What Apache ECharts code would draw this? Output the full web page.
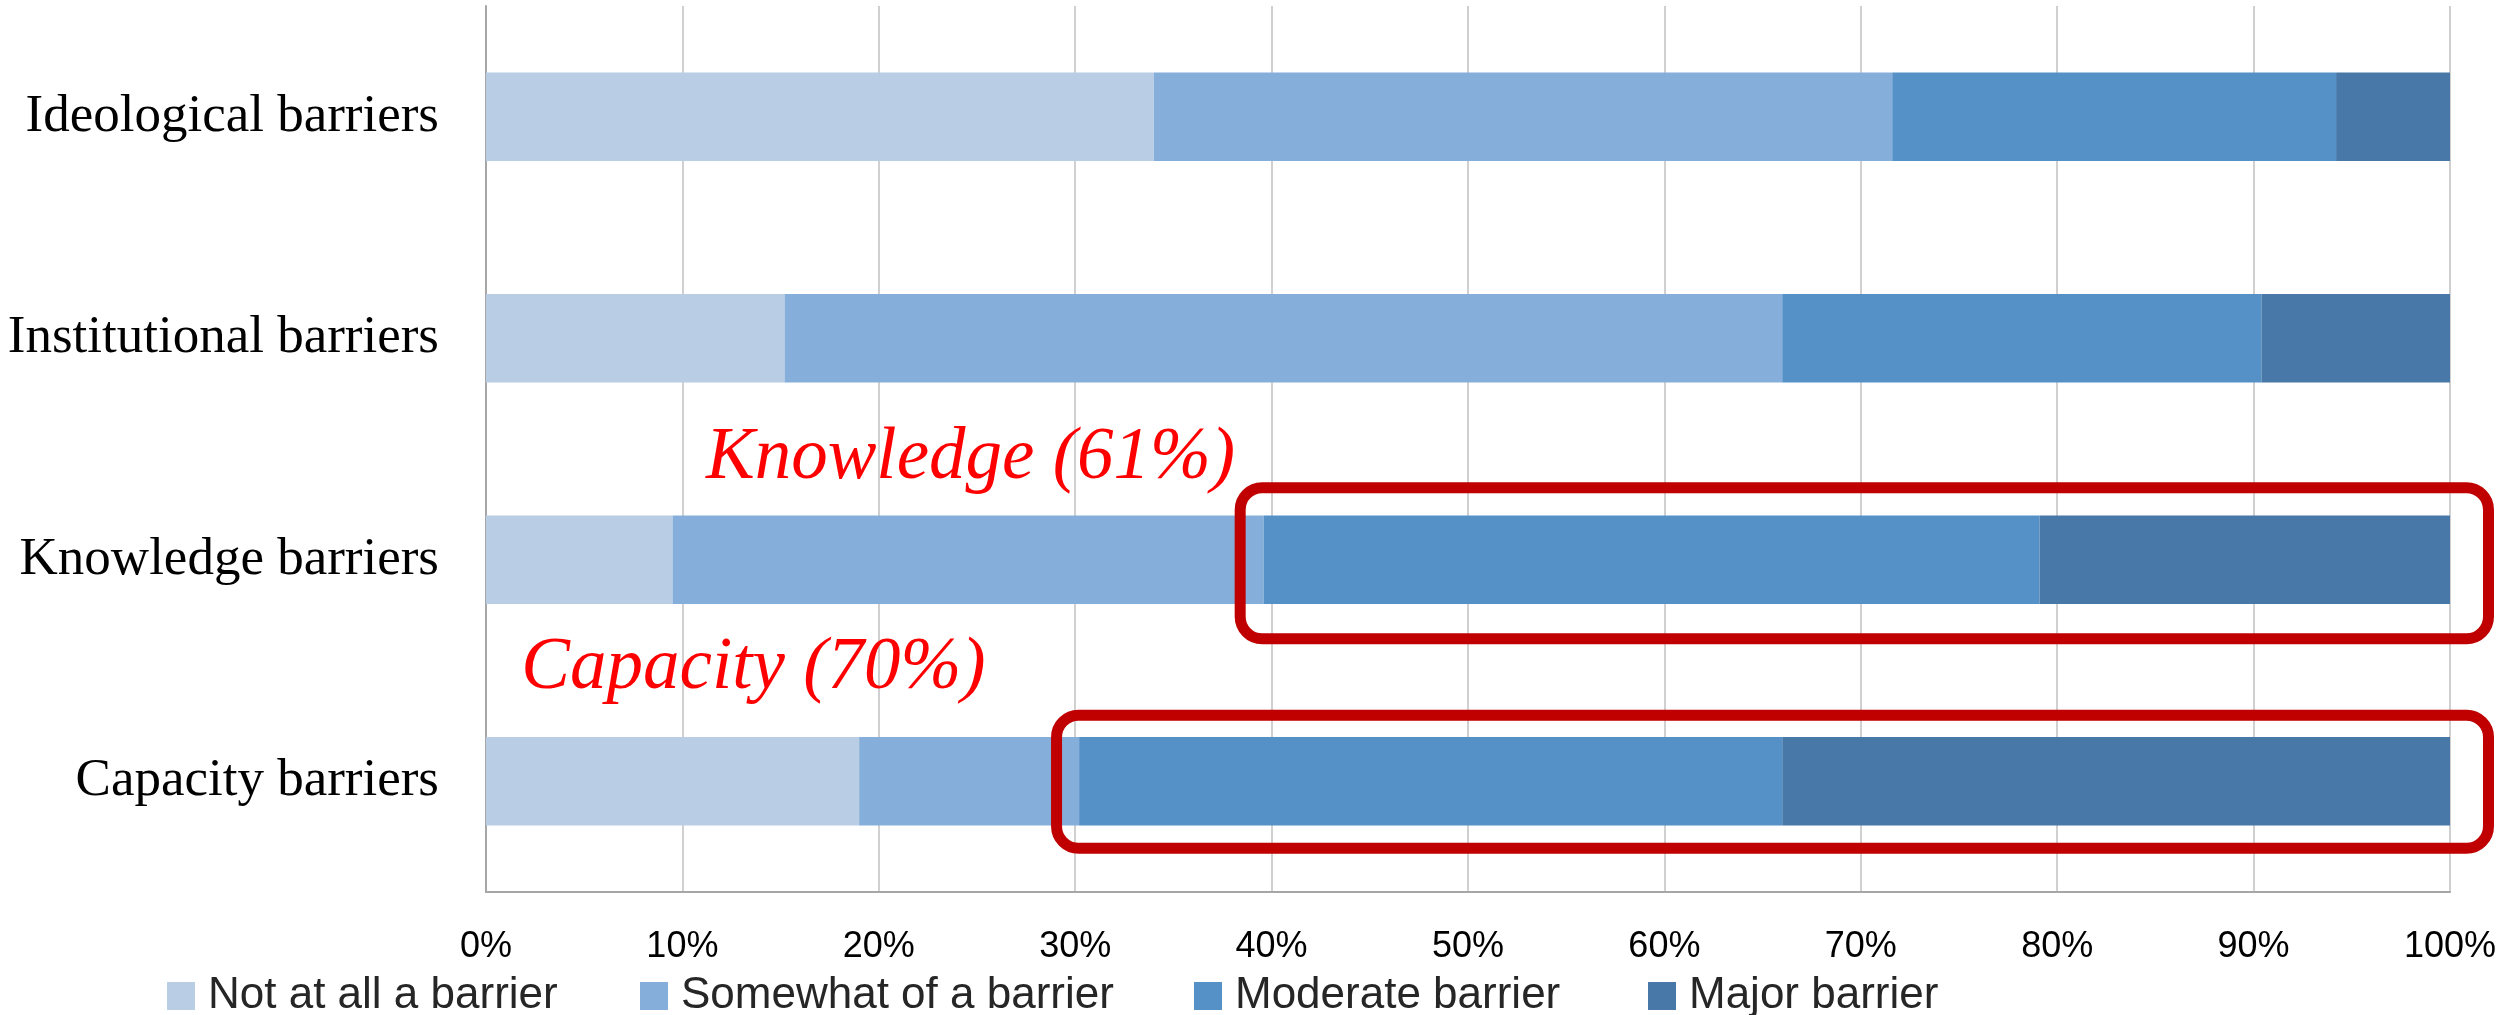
<!DOCTYPE html>
<html>
<head>
<meta charset="utf-8">
<script src="https://cdn.jsdelivr.net/npm/echarts@6/dist/echarts.min.js"></script>
<style>
html,body{margin:0;padding:0;background:#fff;}
#barriers{width:2514px;height:1015px;}
</style>
</head>
<body>
<div id="barriers"></div>
<script>
// categories top to bottom
var categories = ['Ideological barriers', 'Institutional barriers', 'Knowledge barriers', 'Capacity barriers'];
var seriesNames = ['Not at all a barrier', 'Somewhat of a barrier', 'Moderate barrier', 'Major barrier'];
var notAtAll = [34.0, 15.2, 9.5, 19.0];
var somewhat = [37.6, 50.8, 30.1, 11.2];
var moderate = [22.6, 24.4, 39.5, 35.8];
var major = [5.8, 9.6, 20.9, 34.0];
var xTicks = [0, 10, 20, 30, 40, 50, 60, 70, 80, 90, 100];

// red call-outs: text and box around the share of moderate + major
var noteTexts = ['Knowledge (61%)', 'Capacity (70%)'];
var noteCats = [2, 3];
var noteX = [11.2, 1.8];
var boxFrom = [38.4, 29.05];
var boxTo = [101.96, 101.96];

var colors = ['#B9CDE5', '#85AEDA', '#5591C7', '#4778A8'];
var values = [notAtAll, somewhat, moderate, major];

var myChart = echarts.init(document.getElementById('barriers'));

var legendLeft = [162, 635, 1189, 1643];
var legends = seriesNames.map(function (n, i) {
    return {
        data: [n],
        left: legendLeft[i],
        top: 969,
        itemWidth: 28,
        itemHeight: 28,
        icon: 'rect',
        textStyle: {
            fontFamily: 'Liberation Sans',
            fontSize: 44,
            color: '#262626',
            padding: [0, 0, 0, 8]
        }
    };
});

var option = {
    animation: false,
    color: colors,
    legend: legends,
    grid: {
        left: 486,
        right: 64,
        top: 6,
        bottom: 123,
        containLabel: false
    },
    xAxis: {
        type: 'value',
        min: 0,
        max: 100,
        interval: 10,
        axisLine: { show: true, lineStyle: { color: '#A6A6A6', width: 2 } },
        axisTick: { show: false },
        splitLine: { show: true, lineStyle: { color: '#D0D0D0', width: 2 } },
        axisLabel: {
            formatter: function (v) { return xTicks.indexOf(v) >= 0 ? v + '%' : ''; },
            fontFamily: 'Liberation Sans',
            fontSize: 36,
            color: '#000',
            margin: 37
        }
    },
    yAxis: {
        type: 'category',
        inverse: true,
        data: categories,
        axisLine: { show: true, lineStyle: { color: '#A6A6A6', width: 2 } },
        axisTick: { show: false },
        axisLabel: {
            fontFamily: 'Liberation Serif',
            fontSize: 53,
            color: '#000',
            margin: 47
        }
    },
    series: seriesNames.map(function (n, i) {
        return {
            name: n,
            type: 'bar',
            stack: 'total',
            barWidth: '40%',
            data: values[i]
        };
    })
};
myChart.setOption(option);

// call-outs placed from axis coordinates
var noteBaseDy = [-82, -93];
var boxTopDy = [-72, -66];
var boxBottomDy = [79, 67];
var graphics = [];
for (var k = 0; k < noteTexts.length; k++) {
    var p = myChart.convertToPixel({ gridIndex: 0 }, [noteX[k], noteCats[k]]);
    graphics.push({
        type: 'text',
        x: p[0],
        y: p[1] + noteBaseDy[k] - 19,
        style: {
            text: noteTexts[k],
            fill: '#FF0000',
            fontFamily: 'Liberation Serif',
            fontStyle: 'italic',
            fontSize: 73,
            align: 'left',
            verticalAlign: 'middle'
        }
    });
    var a = myChart.convertToPixel({ gridIndex: 0 }, [boxFrom[k], noteCats[k]]);
    var b = myChart.convertToPixel({ gridIndex: 0 }, [boxTo[k], noteCats[k]]);
    graphics.push({
        type: 'rect',
        shape: {
            x: a[0],
            y: a[1] + boxTopDy[k],
            width: b[0] - a[0],
            height: boxBottomDy[k] - boxTopDy[k],
            r: 22
        },
        style: { fill: 'none', stroke: '#C00000', lineWidth: 11 },
        z: 100
    });
}
myChart.setOption({ graphic: graphics });
</script>
</body>
</html>
